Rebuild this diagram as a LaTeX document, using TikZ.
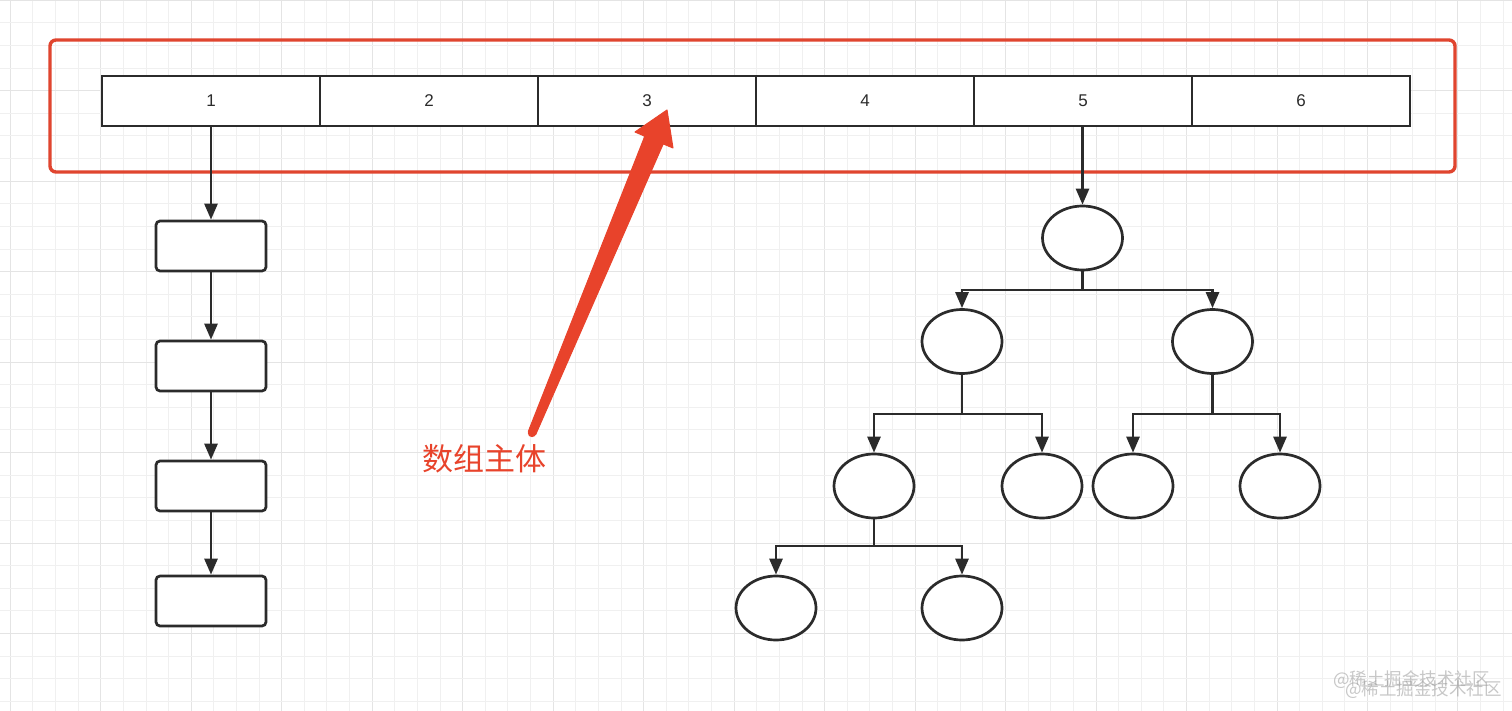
\documentclass[tikz,border=0pt]{standalone}
\usepackage{fontspec}
\setmainfont{Liberation Sans}
\newfontfamily\cjk{Noto Sans CJK SC}
\usetikzlibrary{arrows.meta,shapes.geometric}
\definecolor{ink}{HTML}{2B2B2B}
\definecolor{redline}{HTML}{E0452F}
\definecolor{redarrow}{HTML}{E8432B}
\definecolor{gridminor}{HTML}{F0F0F0}
\definecolor{gridmajor}{HTML}{E4E4E4}
\definecolor{wm}{HTML}{9A9A9A}
\tikzset{
  cell/.style={draw=ink, line width=2.7pt, fill=white, minimum width=218pt, minimum height=50pt, inner sep=0pt, font=\fontsize{17}{20}\selectfont, text=ink},
  listbox/.style={draw=ink, line width=2.7pt, fill=white, rounded corners=4pt, minimum width=110pt, minimum height=50pt, inner sep=0pt},
  treenode/.style={draw=ink, line width=2.7pt, fill=white, ellipse, minimum width=80pt, minimum height=64pt, inner sep=0pt},
  arr/.style={draw=ink, line width=2.7pt, -{Triangle[length=16pt,width=13pt]}},
  plain/.style={draw=ink, line width=2.7pt},
  frame/.style={draw=redline, line width=3.4pt, rounded corners=6pt, minimum width=1405pt, minimum height=132pt, inner sep=0pt},
  wmtext/.style={text=wm, opacity=0.55, font=\cjk\fontsize{17.5}{20}\selectfont, inner sep=0pt}
}
\begin{document}
\begin{tikzpicture}[x=1pt,y=-1pt]
\useasboundingbox (0,0) rectangle (1512,711);
\fill[white] (0,0) rectangle (1512,711);
% grid
\foreach \k in {0,...,66}{
  \pgfmathsetmacro\xx{10.3+22.62*\k}
  \pgfmathtruncatemacro\mm{mod(\k,4)}
  \ifnum\mm=0
    \draw[gridmajor, line width=1pt] (\xx,0) -- (\xx,711);
  \else
    \draw[gridminor, line width=1pt] (\xx,0) -- (\xx,711);
  \fi
}
\foreach \k in {0,...,31}{
  \pgfmathsetmacro\yy{0.2+22.62*\k}
  \pgfmathtruncatemacro\mm{mod(\k,4)}
  \ifnum\mm=0
    \draw[gridmajor, line width=1pt] (0,\yy) -- (1512,\yy);
  \else
    \draw[gridminor, line width=1pt] (0,\yy) -- (1512,\yy);
  \fi
}
% red frame
\node[frame] (fr) at (752.5,106) {};
% array cells
\node[cell] (c1) at (211,101) {1};
\node[cell] (c2) at (429,101) {2};
\node[cell] (c3) at (647,101) {3};
\node[cell] (c4) at (865,101) {4};
\node[cell] (c5) at (1083,101) {5};
\node[cell] (c6) at (1301,101) {6};
% linked list
\node[listbox] (l1) at (211,246) {};
\node[listbox] (l2) at (211,366) {};
\node[listbox] (l3) at (211,486) {};
\node[listbox] (l4) at (211,601) {};
\draw[arr] (c1.south -| l1.north) -- (l1.north);
\draw[arr] (l1.south) -- (l2.north);
\draw[arr] (l2.south) -- (l3.north);
\draw[arr] (l3.south) -- (l4.north);
% tree
\node[treenode] (r) at (1082.5,238) {};
\node[treenode] (a) at (962,341.5) {};
\node[treenode] (b) at (1212.5,341.5) {};
\node[treenode] (c) at (874,486) {};
\node[treenode] (d) at (1042,486) {};
\node[treenode] (e) at (1133,486) {};
\node[treenode] (f) at (1280,486) {};
\node[treenode] (g) at (776,608) {};
\node[treenode] (h) at (962,608) {};
\draw[arr] (c5.south -| r.north) -- (r.north);
\coordinate (j1) at (1082.5,290);
\coordinate (j2) at (962,414);
\coordinate (j3) at (1212.5,414);
\coordinate (j4) at (874,546);
\draw[plain] (r.south) -- (j1);
\draw[arr] (j1) -| (a.north);
\draw[arr] (j1) -| (b.north);
\draw[plain] (a.south) -- (j2);
\draw[arr] (j2) -| (c.north);
\draw[arr] (j2) -| (d.north);
\draw[plain] (b.south) -- (j3);
\draw[arr] (j3) -| (e.north);
\draw[arr] (j3) -| (f.north);
\draw[plain] (c.south) -- (j4);
\draw[arr] (j4) -| (g.north);
\draw[arr] (j4) -| (h.north);
% red annotation arrow
\coordinate (as) at (532,433);
\fill[redarrow, draw=redarrow, line width=1pt, line join=round]
  (528.3,431.5) -- (644.8,136.2) -- (635,132) -- (667,110) -- (673,148) -- (663.2,143.9) -- (535.7,434.5) -- cycle;
\fill[redarrow] (as) circle (4.2);
\node[text=redarrow, font=\cjk\fontsize{31}{34}\selectfont, inner sep=0pt] (lbl) at (484,459) {数组主体};
% watermark
\node[wmtext, anchor=west] (w1) at (1333,680) {@稀土掘金技术社区};
\node[wmtext, anchor=west] (w2) at (1345,690) {@稀土掘金技术社区};
\end{tikzpicture}
\end{document}
